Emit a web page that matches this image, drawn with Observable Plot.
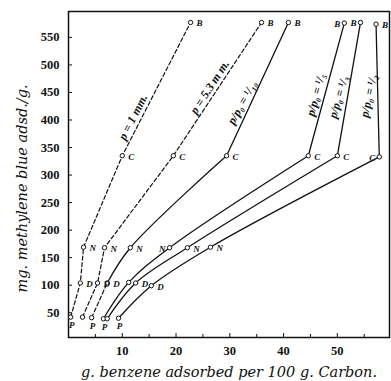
<!DOCTYPE html>
<html><head><meta charset="utf-8">
<script src="https://cdn.jsdelivr.net/npm/d3@7"></script>
<script src="https://cdn.jsdelivr.net/npm/@observablehq/plot@0.6"></script>
<style>
body{margin:0;background:#fff}
#chart svg{display:block}
</style>
</head><body><div id="chart"></div>
<script>
// ---- data ----
const seriesNames = ["p = 1 mm.", "p = 5.3 m m.", "p/p\u2080 = \u00b9/\u2081\u2080", "p/p\u2080 = \u00b9/\u2085", "p/p\u2080 = \u00b9/\u2083", "p/p\u2080 = \u00b9/\u2082"];
const pointNames = ["P", "D", "N", "C", "B"];
// g. benzene adsorbed per 100 g carbon, at points P, D, N, C, B
const benzene1 = [0.4, 2.2, 2.8, 10.0, 22.7];
const benzene2 = [2.6, 5.4, 6.7, 19.5, 35.9];
const benzene3 = [4.3, 7.2, 11.5, 29.4, 40.9];
const benzene4 = [6.5, 11.2, 18.8, 44.6, 51.3];
const benzene5 = [7.2, 12.5, 22.1, 50.0, 54.3];
const benzene6 = [9.3, 15.4, 26.4, 57.8, 57.2];
// mg methylene blue adsorbed per g, at points P, D, N, C, B
const methylene1 = [42, 104, 169, 335, 577];
const methylene2 = [42, 104, 168, 335, 577];
const methylene3 = [41, 104, 168, 335, 577];
const methylene4 = [39, 105, 168, 335, 576];
const methylene5 = [39, 104, 168, 335, 577];
const methylene6 = [40, 99, 169, 333, 574];
const yTicks = [50, 100, 150, 200, 250, 300, 350, 400, 450, 500, 550];
const xLabelTicks = [10, 20, 30, 40, 50];
const xMinorTicks = [5, 15, 25, 35, 45, 55];
const xTitle = "g. benzene adsorbed per 100 g. Carbon.";
const yTitle = "mg. methylene blue adsd./g.";

// ---- build tables ----
const xs = [benzene1, benzene2, benzene3, benzene4, benzene5, benzene6];
const ys = [methylene1, methylene2, methylene3, methylene4, methylene5, methylene6];
const points = [];
xs.forEach((arr, s) => arr.forEach((x, i) => points.push({s, name: pointNames[i], i, x, y: ys[s][i]})));

// letter placement (as printed in the reference)
const leftLetters = new Set(["3N", "3B", "4B", "5C"]);
const hiddenLetters = new Set(["1P", "4P", "3D"]);
const side = p => hiddenLetters.has(p.s + p.name) ? "none"
  : p.name === "P" ? "below" : leftLetters.has(p.s + p.name) ? "left" : "right";

// line segments
const dashedAll = points.filter(p => p.s < 2);
const dashedLow = points.filter(p => p.s === 2 && p.i <= 1);
const smoothMid = points.filter(p => (p.s === 2 && p.i >= 1 && p.i <= 3) || (p.s > 2 && p.i <= 3));
const straightTop = points.filter(p => p.s >= 2 && p.i >= 3);

// series labels along C-B segment
const labelT = [0.29, 0.515, 0.40, 0.46, 0.44, 0.46];
const labelRot = [-63, -57, -61, -75, -74, -78];
const seriesLabels = seriesNames.map((t, s) => {
  const k = labelT[s];
  return {t, x: xs[s][3] + k * (xs[s][4] - xs[s][3]), y: ys[s][3] + k * (ys[s][4] - ys[s][3]), r: labelRot[s]};
});

const serif = "'Liberation Serif','DejaVu Serif',serif";
const titleFont = "'DejaVu Serif','Liberation Serif',serif";
const letterStyle = {fontSize: 9, fontStyle: "italic", fontWeight: "bold", fill: "#111"};

const chart = Plot.plot({
  width: 391, height: 381,
  marginLeft: 68, marginRight: 2, marginTop: 11, marginBottom: 44,
  x: {domain: [0, 59.7]},
  y: {domain: [5, 597]},
  style: {fontFamily: serif, background: "#fff", color: "#111"},
  marks: [
    Plot.frame({stroke: "#111", strokeWidth: 1.5}),
    Plot.axisY(yTicks, {tickSize: -4, tickPadding: 13, fontSize: 12.5, fontWeight: "bold", label: null, stroke: "#111"}),
    Plot.axisX(xLabelTicks, {tickSize: -4, tickPadding: 13, fontSize: 12.5, fontWeight: "bold", label: null, stroke: "#111"}),
    Plot.axisX(xMinorTicks, {tickSize: -3, tickFormat: () => "", label: null, stroke: "#111"}),
    Plot.line(dashedAll, {x: "x", y: "y", z: "s", stroke: "#111", strokeWidth: 1.2, strokeDasharray: "4,2.5"}),
    Plot.line(dashedLow, {x: "x", y: "y", z: "s", stroke: "#111", strokeWidth: 1.2, strokeDasharray: "4,2.5"}),
    Plot.line(smoothMid, {x: "x", y: "y", z: "s", stroke: "#111", strokeWidth: 1.3, curve: "catmull-rom"}),
    Plot.line(straightTop, {x: "x", y: "y", z: "s", stroke: "#111", strokeWidth: 1.3}),
    Plot.dot(points, {x: "x", y: "y", r: 2.2, stroke: "#111", strokeWidth: 1, fill: "#fff"}),
    Plot.text(points.filter(p => side(p) === "right"), {x: "x", y: "y", text: "name", dx: 6, dy: 1, textAnchor: "start", ...letterStyle}),
    Plot.text(points.filter(p => side(p) === "left"), {x: "x", y: "y", text: "name", dx: -4, dy: 1, textAnchor: "end", ...letterStyle}),
    Plot.text(points.filter(p => side(p) === "below"), {x: "x", y: "y", text: "name", dx: 1, dy: 8, ...letterStyle}),
    Plot.text(seriesLabels, {x: "x", y: "y", text: "t", rotate: "r", dx: -9, fontSize: 12, fontStyle: "italic", fontWeight: "bold", fill: "#111"}),
    Plot.text([xTitle], {frameAnchor: "bottom", textAnchor: "middle", lineAnchor: "middle", dy: 35, fontFamily: titleFont, fontSize: 14.5, fontStyle: "italic", fill: "#111"}),
    Plot.text([yTitle], {frameAnchor: "left", textAnchor: "middle", lineAnchor: "middle", rotate: -90, dx: -46, dy: 14, fontFamily: titleFont, fontSize: 14.5, fontStyle: "italic", fill: "#111"})
  ]
});
document.getElementById("chart").appendChild(chart);
</script>
</body></html>
